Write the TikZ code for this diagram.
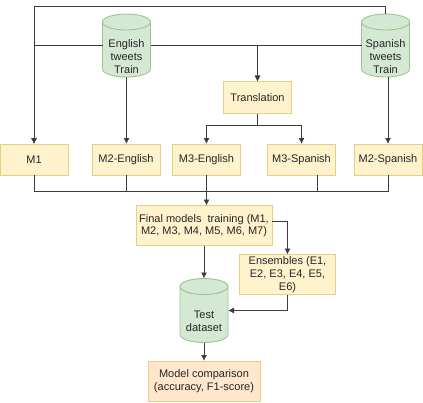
\documentclass[tikz,border=0pt]{standalone}
\usepackage{fontspec}
\setmainfont{Liberation Sans}
\usepackage{xcolor}
\usetikzlibrary{arrows.meta}
\definecolor{BoxFill}{HTML}{FFF2CC}
\definecolor{BoxLine}{HTML}{E6CE82}
\definecolor{DataFill}{HTML}{D5E8D4}
\definecolor{DataLine}{HTML}{9AC68E}
\definecolor{EndFill}{HTML}{FFE6CC}
\definecolor{Wire}{HTML}{3C3C3C}
\tikzset{
  box/.style={draw=BoxLine,fill=BoxFill,line width=0.9pt,align=center,inner sep=0pt,outer sep=0pt,text=black!85},
  model/.style={box,minimum width=68pt,minimum height=31pt},
  data/.style={minimum width=48pt,inner sep=0pt,outer sep=0pt},
  datatext/.style={align=center,inner sep=0pt,text=black!85},
  datashape/.style={draw=DataLine,fill=DataFill,line width=0.9pt},
  wire/.style={draw=Wire,line width=0.9pt},
  link/.style={wire,->}
}
\newcommand{\drum}[1]{
  \path[datashape] ([yshift=-8pt]#1.north west) arc[start angle=180,end angle=0,x radius=24pt,y radius=8pt]
    -- ([yshift=8pt]#1.south east) arc[start angle=0,end angle=-180,x radius=24pt,y radius=8pt] -- cycle;
  \draw[datashape,fill=none] ([yshift=-8pt]#1.north west) arc[start angle=180,end angle=360,x radius=24pt,y radius=8pt];
}
\begin{document}
\begin{tikzpicture}[x=1pt,y=-1pt,font=\fontsize{11}{12.7}\selectfont,>={Latex[length=6pt,width=6pt]}]
  \useasboundingbox (0,0) rectangle (423,402);
  % sources
  \node[data,minimum height=63pt] (english) at (126.5,45.5) {};
  \node[data,minimum height=63pt] (spanish) at (385.5,45.5) {};
  \drum{english}
  \drum{spanish}
  \node[datatext] (englishtext) at (126.5,56.5) {English\\tweets\\Train};
  \node[datatext] (spanishtext) at (385.5,56.5) {Spanish\\tweets\\Train};
  \node[box,minimum width=68pt,minimum height=32pt] (trans) at (257.5,97.5) {Translation};
  % models
  \node[model] (m1) at (34,159.5) {M1};
  \node[model] (m2en) at (126,159.5) {M2-English};
  \node[model] (m3en) at (206.5,159.5) {M3-English};
  \node[model] (m3es) at (301.5,159.5) {M3-Spanish};
  \node[model] (m2es) at (388,159.5) {M2-Spanish};
  \coordinate (bus) at (206.5,191.5);
  % training and evaluation
  \node[box,minimum width=136pt,minimum height=40pt] (final) at (204,225.5)
    {Final models~ training (M1,\\M2, M3, M4, M5, M6, M7)};
  \node[box,minimum width=96pt,minimum height=40pt] (ens) at (287.5,274.5)
    {Ensembles (E1,\\E2, E3, E4, E5,\\E6)};
  \node[data,minimum height=64pt] (test) at (204,310.5) {};
  \drum{test}
  \node[datatext] (testtext) at (204,321.5) {Test\\dataset};
  \node[box,fill=EndFill,minimum width=112pt,minimum height=40pt] (cmp) at (204,381)
    {Model comparison\\(accuracy, F1-score)};
  % connectors
  \draw[link] (spanish.north) -- ++(0,-8) -| (m1.north);
  \draw[link] (english.west) -| (m1.north);
  \draw[link] (english.east) -| (trans.north);
  \draw[link] (spanish.west) -| (trans.north);
  \draw[link] (english.south) -- (english.south |- m2en.north);
  \draw[link] (spanish.south -| m2es.north) -- (m2es.north);
  \draw[link] (trans.south) -- ++(0,12) -| (m3en.north);
  \draw[link] (trans.south) -- ++(0,12) -| (m3es.north);
  \draw[wire] (m1.south) |- (bus);
  \draw[wire] (m2en.south) |- (bus);
  \draw[wire] ([xshift=16pt]m3es.south) |- (bus);
  \draw[wire] (m2es.south) |- (bus);
  \draw[link] (m3en.south) -- (m3en.south |- final.north);
  \draw[link] (final.south) -- (test.north);
  \draw[link] ([yshift=4pt]final.east) -| (ens.north);
  \draw[link] (ens.south) |- (test.east);
  \draw[link] (test.south) -- (cmp.north);
\end{tikzpicture}
\end{document}
